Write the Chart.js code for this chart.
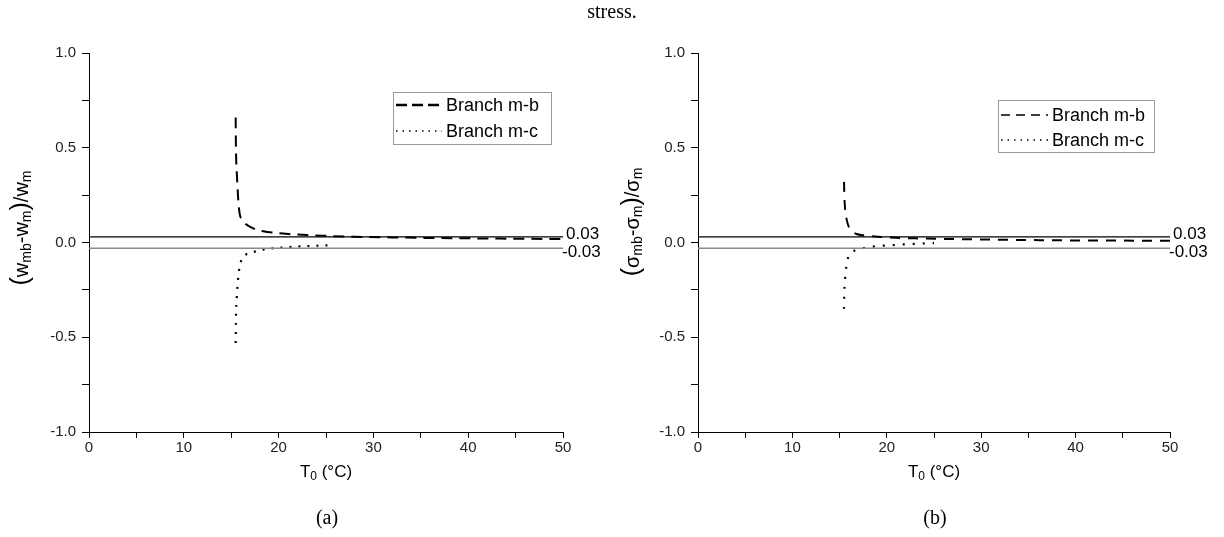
<!DOCTYPE html>
<html>
<head>
<meta charset="utf-8">
<script src="https://cdn.jsdelivr.net/npm/chart.js@4.4.1/dist/chart.umd.min.js"></script>
<style>
  body { margin: 0; background: #fff; width: 1224px; height: 537px; position: relative; overflow: hidden; }
  .panel { position: absolute; top: 0; width: 612px; height: 537px; }
  .cap { position: absolute; font-family: "Liberation Serif", "Times New Roman", serif; font-size: 20px; color: #000;
         transform: translateX(-50%); white-space: nowrap; }
</style>
</head>
<body>
<div class="panel" style="left:0"><canvas id="chartA" width="612" height="537"></canvas></div>
<div class="panel" style="left:612px"><canvas id="chartB" width="612" height="537"></canvas></div>
<div class="cap" style="left:612px;top:0px">stress.</div>
<div class="cap" style="left:327px;top:506px">(a)</div>
<div class="cap" style="left:935px;top:506px">(b)</div>
<script>
// legend names and the two reference levels drawn as thin horizontal lines
const seriesNames = ['Branch m-b', 'Branch m-c'];
const refLevels = [0.03, -0.03];
const refLabels = ['0.03', '-0.03'];
const xRange = [0, 50];

// panel (a): (w_mb - w_m)/w_m
const mbA_x = [15.47, 15.5, 15.6, 15.75, 15.9, 16.2, 16.6, 17.0, 17.8, 18.8, 20, 21, 23, 25, 28, 32, 36, 40, 45, 50];
const mbA_y = [0.66, 0.50, 0.36, 0.22, 0.15, 0.12, 0.095, 0.083, 0.066, 0.056, 0.049, 0.045, 0.039, 0.035, 0.030, 0.027, 0.024, 0.022, 0.020, 0.018];
const mcA_x = [15.47, 15.5, 15.6, 15.75, 15.9, 16.2, 16.6, 17.0, 17.5, 18.5, 19.5, 20.8, 22, 23.5, 25.5];
const mcA_y = [-0.53, -0.40, -0.28, -0.18, -0.125, -0.08, -0.062, -0.055, -0.048, -0.036, -0.030, -0.025, -0.021, -0.018, -0.015];

// panel (b): (sigma_mb - sigma_m)/sigma_m
const mbB_x = [15.47, 15.5, 15.6, 15.8, 16.0, 16.4, 16.8, 17.5, 18.5, 19.5, 21, 23, 26, 30, 35, 40, 45, 50];
const mbB_y = [0.32, 0.25, 0.17, 0.11, 0.08, 0.055, 0.045, 0.038, 0.033, 0.029, 0.025, 0.022, 0.019, 0.016, 0.013, 0.011, 0.010, 0.009];
const mcB_x = [15.47, 15.5, 15.6, 15.8, 16.0, 16.5, 17.0, 18.0, 19.0, 20.3, 21.5, 22.5, 24, 25];
const mcB_y = [-0.35, -0.27, -0.18, -0.10, -0.07, -0.045, -0.035, -0.025, -0.019, -0.015, -0.011, -0.008, -0.005, -0.003];

const pts = (xs, ys) => xs.map((x, i) => ({ x: x, y: ys[i] }));

// draws text made of normal / subscript pieces, centred on the current origin
function richText(ctx, parts, size) {
  const fontOf = p => (p.sub ? Math.round(size * 0.68) : (p.big ? Math.round(size * 1.25) : size)) + 'px Arial, "Liberation Sans"';
  let total = 0;
  parts.forEach(p => { ctx.font = fontOf(p); total += ctx.measureText(p.t).width; });
  let x = -total / 2;
  ctx.textAlign = 'left';
  ctx.textBaseline = 'alphabetic';
  parts.forEach(p => {
    ctx.font = fontOf(p);
    ctx.fillText(p.t, x, p.sub ? size * 0.5 : size * 0.35);
    x += ctx.measureText(p.t).width;
  });
}

const extras = {
  id: 'extras',
  afterDraw(chart, args, opts) {
    const ctx = chart.ctx, a = chart.chartArea, ys = chart.scales.y;
    ctx.save();
    ctx.fillStyle = '#000';

    // labels of the reference lines
    ctx.font = '17px Arial, "Liberation Sans"';
    ctx.textAlign = 'left';
    ctx.textBaseline = 'middle';
    ctx.fillText(refLabels[0], a.right + 3, ys.getPixelForValue(refLevels[0]) - 3);
    ctx.fillText(refLabels[1], a.right - 1, ys.getPixelForValue(refLevels[1]) + 4);

    // legend box
    const L = opts.legend;
    ctx.strokeStyle = '#9a9a9a';
    ctx.lineWidth = 1;
    ctx.strokeRect(L.x + 0.5, L.y + 0.5, L.w, L.h);
    ctx.font = '18px Arial, "Liberation Sans"';
    L.styles.forEach((s, i) => {
      const y = L.y + L.first + i * L.gap;
      ctx.beginPath();
      ctx.setLineDash(s.dash);
      ctx.lineWidth = s.width;
      ctx.strokeStyle = '#000';
      ctx.moveTo(L.x + 3, y);
      ctx.lineTo(L.x + L.sample, y);
      ctx.stroke();
      ctx.setLineDash([]);
      ctx.fillText(seriesNames[i], L.x + L.sample + 4, y + 1);
    });

    // x axis title: T0 (°C)
    ctx.save();
    ctx.translate((a.left + a.right) / 2, 471);
    richText(ctx, [{ t: 'T' }, { t: '0', sub: true }, { t: ' (°C)' }], 17);
    ctx.restore();

    // y axis title with subscripts
    ctx.save();
    ctx.translate(opts.yTitle.x, opts.yTitle.y);
    ctx.rotate(-Math.PI / 2);
    richText(ctx, opts.yTitle.parts, 20);
    ctx.restore();

    ctx.restore();
  }
};

function makeChart(id, cfg) {
  const lines = refLevels.map((v, i) => ({
    data: pts(xRange, [v, v]),
    borderColor: i === 0 ? '#000' : '#8a8a8a',
    borderWidth: i === 0 ? 1.2 : 1.5,
    pointRadius: 0
  }));
  return new Chart(document.getElementById(id), {
    type: 'line',
    data: {
      datasets: [
        ...lines,
        { data: cfg.mb, borderColor: '#000', borderWidth: 2, borderDash: cfg.dash[0], pointRadius: 0, cubicInterpolationMode: 'monotone' },
        { data: cfg.mc, borderColor: '#000', borderWidth: 2.2, borderDash: cfg.dash[1], pointRadius: 0, cubicInterpolationMode: 'monotone' }
      ]
    },
    options: {
      responsive: false,
      devicePixelRatio: 1,
      animation: false,
      events: [],
      layout: { padding: { top: 53, right: 612 - cfg.right, left: 0, bottom: 0 } },
      plugins: {
        legend: { display: false },
        tooltip: { enabled: false },
        extras: { legend: cfg.legend, yTitle: cfg.yTitle }
      },
      scales: {
        x: {
          type: 'linear', min: xRange[0], max: xRange[1],
          afterFit: s => { s.height = 537 - 432; },
          grid: { drawOnChartArea: false, tickLength: 6, color: '#000' },
          border: { color: '#000', width: 1 },
          ticks: {
            stepSize: 5, autoSkip: false, maxRotation: 0, padding: 1, color: '#222',
            font: { family: 'Arial, "Liberation Sans"', size: 15 },
            callback: v => (v % 10 === 0 ? String(v) : '')
          }
        },
        y: {
          min: -1, max: 1,
          afterFit: s => { s.width = cfg.left; },
          grid: { drawOnChartArea: false, tickLength: 7, color: '#000' },
          border: { color: '#000', width: 1 },
          ticks: {
            stepSize: 0.25, autoSkip: false, padding: 6, color: '#222',
            font: { family: 'Arial, "Liberation Sans"', size: 15 },
            callback: v => (Math.abs(v * 2 - Math.round(v * 2)) < 1e-6 ? v.toFixed(1) : '')
          }
        }
      }
    },
    plugins: [extras]
  });
}

makeChart('chartA', {
  mb: pts(mbA_x, mbA_y), mc: pts(mcA_x, mcA_y),
  left: 89, right: 563,
  dash: [[11, 7], [2, 7]],
  legend: { x: 393, y: 92, w: 158, h: 52, first: 13, gap: 26, sample: 49,
            styles: [{ dash: [11, 5], width: 2.5 }, { dash: [1.5, 5], width: 1.5 }] },
  yTitle: { x: 21, y: 228, parts: [{ t: '(', big: true }, { t: 'w' }, { t: 'mb', sub: true }, { t: '-w' }, { t: 'm', sub: true },
                                   { t: ')', big: true }, { t: '/w' }, { t: 'm', sub: true }] }
});

makeChart('chartB', {
  mb: pts(mbB_x, mbB_y), mc: pts(mcB_x, mcB_y),
  left: 86, right: 558,
  dash: [[10, 8], [2, 8]],
  legend: { x: 386, y: 100, w: 156, h: 52, first: 15, gap: 25, sample: 50,
            styles: [{ dash: [9, 6], width: 1.3 }, { dash: [1.5, 5], width: 1.5 }] },
  yTitle: { x: 20, y: 222, parts: [{ t: '(', big: true }, { t: 'σ' }, { t: 'mb', sub: true }, { t: '-σ' }, { t: 'm', sub: true },
                                   { t: ')', big: true }, { t: '/σ' }, { t: 'm', sub: true }] }
});
</script>
</body>
</html>
